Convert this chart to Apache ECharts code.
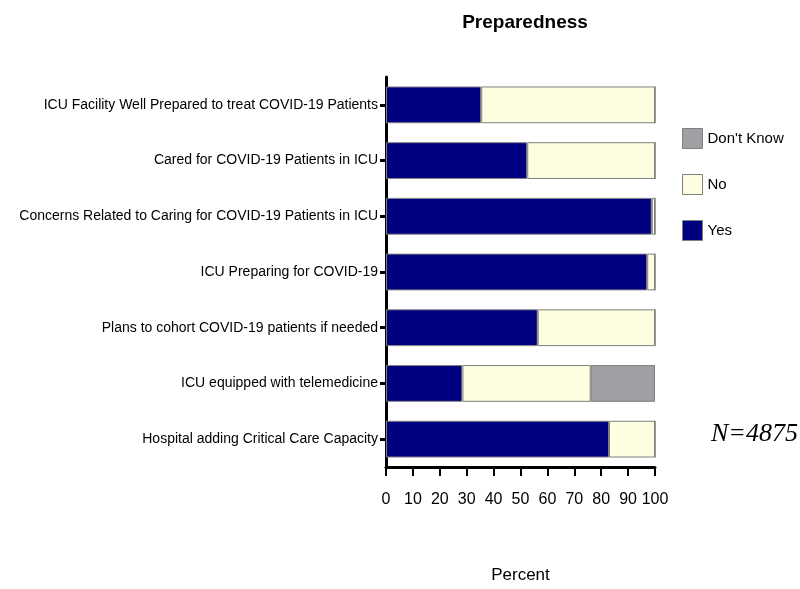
<!DOCTYPE html>
<html>
<head>
<meta charset="utf-8">
<script src="https://cdn.jsdelivr.net/npm/echarts@6/dist/echarts.min.js"></script>
<style>
  html, body { margin: 0; padding: 0; background: #fff; }
  #chart { width: 800px; height: 589px; }
</style>
</head>
<body>
<div id="chart"></div>
<script>
const categories = [
  'ICU Facility Well Prepared to treat COVID-19 Patients',
  'Cared for COVID-19 Patients in ICU',
  'Concerns Related to Caring for COVID-19 Patients in ICU',
  'ICU Preparing for COVID-19',
  'Plans to cohort COVID-19 patients if needed',
  'ICU equipped with telemedicine',
  'Hospital adding Critical Care Capacity'
]
const yesValues = [35.4, 52.5, 98.8, 97.1, 56.4, 28.4, 82.9]
const noValues = [64.6, 47.5, 1.2, 2.9, 43.6, 47.7, 17.1]
const dontKnowValues = [0, 0, 0, 0, 0, 23.9, 0]
const xTicks = [0, 10, 20, 30, 40, 50, 60, 70, 80, 90, 100]

const font = '"Liberation Sans", Arial, sans-serif'
const chart = echarts.init(document.getElementById('chart'))

const barStyle = (color) => ({
  color: color,
  borderColor: '#7f7f7f',
  borderWidth: 1
})

const option = {
  animation: false,
  textStyle: { fontFamily: font },
  title: {
    text: 'Preparedness',
    left: 520,
    top: 8,
    textAlign: 'center',
    textStyle: { fontFamily: font, fontSize: 19, fontWeight: 'bold', color: '#000' }
  },
  legend: {
    orient: 'vertical',
    left: 677,
    top: 123,
    itemWidth: 20,
    itemHeight: 20,
    itemGap: 25,
    icon: 'rect',
    data: ["Don't Know", 'No', 'Yes'],
    textStyle: { fontFamily: font, fontSize: 15, color: '#000' },
    itemStyle: { borderColor: '#7f7f7f', borderWidth: 1 }
  },
  grid: {
    left: 386,
    right: 145,
    top: 77,
    bottom: 122,
    containLabel: false,
    outerBoundsMode: 'none'
  },
  xAxis: {
    type: 'value',
    min: 0,
    max: 100,
    interval: 10,
    name: 'Percent',
    nameLocation: 'middle',
    nameGap: 100,
    nameTextStyle: { fontFamily: font, fontSize: 17, color: '#000' },
    axisLine: { show: true, lineStyle: { color: '#000', width: 3 } },
    axisTick: { show: true, length: 9, lineStyle: { color: '#000', width: 2 } },
    axisLabel: {
      fontFamily: font, fontSize: 16, color: '#000', margin: 25,
      showMinLabel: true, showMaxLabel: true, hideOverlap: false,
      formatter: (v) => xTicks.includes(v) ? String(v) : ''
    },
    splitLine: { show: false }
  },
  yAxis: {
    type: 'category',
    inverse: true,
    data: categories,
    axisLine: { show: true, lineStyle: { color: '#000', width: 3 } },
    axisTick: { show: true, alignWithLabel: true, length: 6, lineStyle: { color: '#000', width: 3 } },
    axisLabel: { fontFamily: font, fontSize: 14, color: '#000', margin: 8 }
  },
  series: [
    {
      name: 'Yes', type: 'bar', stack: 'total', barWidth: '66%',
      data: yesValues, itemStyle: barStyle('#000080')
    },
    {
      name: 'No', type: 'bar', stack: 'total',
      data: noValues, itemStyle: barStyle('#fffde0')
    },
    {
      name: "Don't Know", type: 'bar', stack: 'total',
      data: dontKnowValues, itemStyle: barStyle('#a0a0a4')
    }
  ],
  graphic: [
    {
      type: 'text',
      left: 711,
      top: 421,
      style: {
        text: 'N=4875',
        font: 'italic 26px "Liberation Serif", "Times New Roman", serif',
        fill: '#000'
      }
    }
  ]
}

chart.setOption(option)
</script>
</body>
</html>
